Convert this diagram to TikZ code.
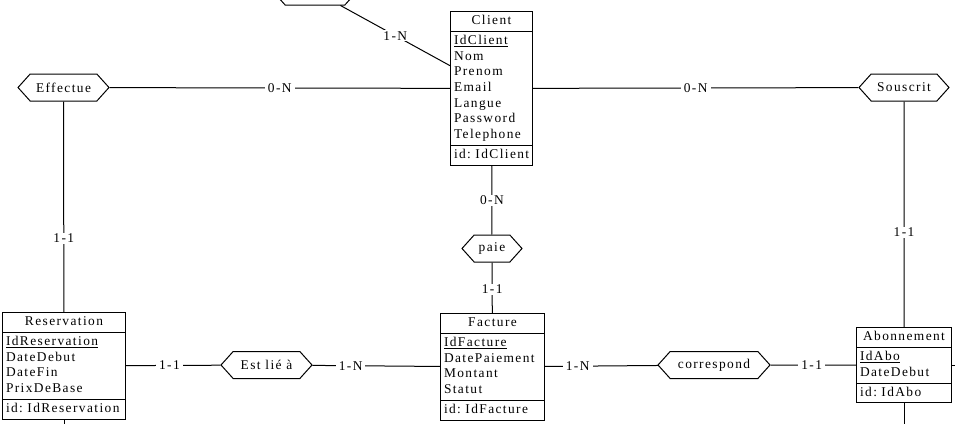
\documentclass[tikz,border=0pt]{standalone}
\usepackage{fontspec}
\setmainfont{Liberation Serif}[LetterSpace=10.5]
\usetikzlibrary{positioning,shapes.symbols,shapes.multipart}
\newcommand{\police}{\fontsize{13.4}{15.7}\selectfont\hyphenpenalty=10000\exhyphenpenalty=10000}
\newcommand{\titre}[1]{\makebox[\hsize]{#1}}

\tikzset{
  lien/.style={line width=1pt},
  entite/.style={draw,lien,rectangle split,rectangle split parts=3,anchor=north west,
    inner xsep=3.5pt,inner ysep=1.6pt,text width=#1,align=left,font=\police},
  assoc/.style={draw,lien,shape=signal,signal to=west and east,signal pointer angle=96,
    minimum height=27pt,minimum width=#1,inner xsep=2pt,inner ysep=2pt,font=\police},
  card/.style={fill=white,inner xsep=3pt,inner ysep=1pt,font=\police}
}

\begin{document}
\begin{tikzpicture}[x=1pt,y=-1pt]
  \useasboundingbox (0,0) rectangle (955,423);
  \clip (0,0) rectangle (955,423);

  % entites
  \node[entite=75pt] (client) at (450,11)
    {\strut\titre{Client}
     \nodepart{two}\strut\underline{IdClient}\\Nom\\Prenom\\Email\\Langue\\Password\\Telephone\strut
     \nodepart{three}\strut id:~IdClient};
  \node[entite=116pt] (reservation) at (2,312)
    {\strut\titre{Reservation}
     \nodepart{two}\strut\underline{IdReservation}\\DateDebut\\DateFin\\PrixDeBase\strut
     \nodepart{three}\strut id:~IdReservation};
  \node[entite=97pt] (facture) at (440,313)
    {\strut\titre{Facture}
     \nodepart{two}\strut\underline{IdFacture}\\DatePaiement\\Montant\\Statut\strut
     \nodepart{three}\strut id:~IdFacture};
  \node[entite=88pt] (abonnement) at (856,327)
    {\strut\titre{Abonnement}
     \nodepart{two}\strut\underline{IdAbo}\\DateDebut\strut
     \nodepart{three}\strut id:~IdAbo};

  % associations
  \node[assoc=84pt] (hautgauche) at (315,-8.5) {};
  \node[assoc=91pt] (effectue) at (63.5,87.5) {Effectue};
  \node[assoc=90pt] (souscrit) at (904,87.5) {Souscrit};
  \node[assoc=60pt] (paie) at (492,248.5) {paie};
  \node[assoc=91pt] (estlie) at (266.5,365) {Est lié à};
  \node[assoc=112pt] (correspond) at (714,365) {correspond};

  % hors du cadre
  \coordinate[below=30pt of reservation] (sousresa);
  \coordinate[below=30pt of abonnement] (sousabo);
  \coordinate[right=30pt of abonnement] (droiteabo);

  % liens
  \draw[lien] (hautgauche) -- node[card]{1-N} (client);
  \draw[lien] (effectue) -- node[card]{0-N} (client);
  \draw[lien] (client) -- node[card]{0-N} (souscrit);
  \draw[lien] (effectue) -- node[card,pos=0.65]{1-1} (reservation);
  \draw[lien] (souscrit) -- node[card,pos=0.58]{1-1} (abonnement);
  \draw[lien] (client) -- node[card]{0-N} (paie);
  \draw[lien] (paie) -- node[card,pos=0.53]{1-1} (facture);
  \draw[lien] (reservation) -- node[card,pos=0.46]{1-1} (estlie);
  \draw[lien] (estlie) -- node[card,pos=0.3]{1-N} (facture);
  \draw[lien] (facture) -- node[card,pos=0.29]{1-N} (correspond);
  \draw[lien] (correspond) -- node[card,pos=0.48]{1-1} (abonnement);
  \draw[lien] (reservation) -- (sousresa);
  \draw[lien] (abonnement) -- (sousabo);
  \draw[lien] (abonnement) -- (droiteabo);
\end{tikzpicture}
\end{document}
